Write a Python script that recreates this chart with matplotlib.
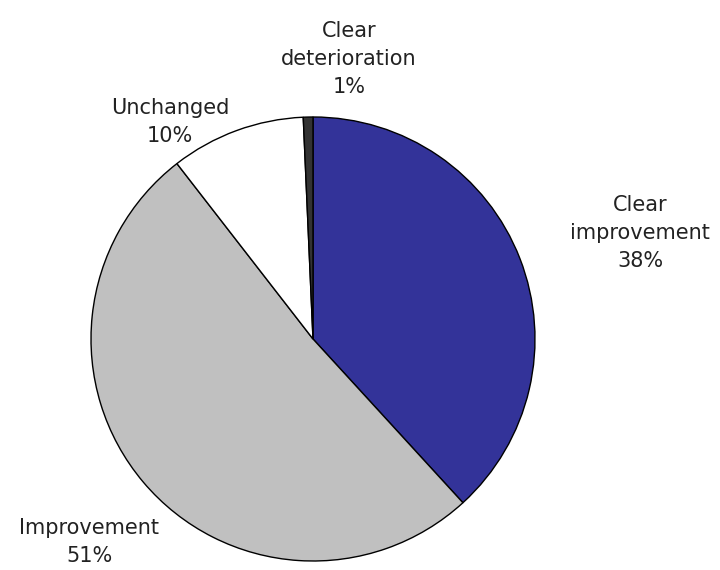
import matplotlib
matplotlib.use("Agg")
import matplotlib.pyplot as plt

# slices in order, clockwise from 12 o'clock
categories = ["Clear\nimprovement", "Improvement", "Unchanged", "Clear\ndeterioration"]
shares = [38.2, 51.3, 9.8, 0.7]
colors = ["#333399", "#C0C0C0", "#FFFFFF", "#333333"]

# label centres in figure pixels (x, y from top)
label_pos = [(640, 233), (89, 542), (170, 122), (349, 59)]

W, H = 720, 570
fig = plt.figure(figsize=(W / 100, H / 100), dpi=100)
fig.patch.set_facecolor("white")

cx, cy, r = 313, 339, 222
ax = fig.add_axes([(cx - r) / W, (H - cy - r) / H, 2 * r / W, 2 * r / H])
ax.pie(shares, colors=colors, startangle=90, counterclock=False,
       wedgeprops=dict(edgecolor="black", linewidth=1.0))
ax.set_xlim(-1, 1)
ax.set_ylim(-1, 1)
ax.set_aspect("equal")
ax.axis("off")

for name, val, (x, y) in zip(categories, shares, label_pos):
    fig.text(x / W, 1 - y / H, f"{name}\n{val:.0f}%", ha="center", va="center",
             fontsize=15, color="#222222", linespacing=1.5,
             family=["DejaVu Sans"])

fig.savefig("out.png", dpi=100, facecolor="white")
